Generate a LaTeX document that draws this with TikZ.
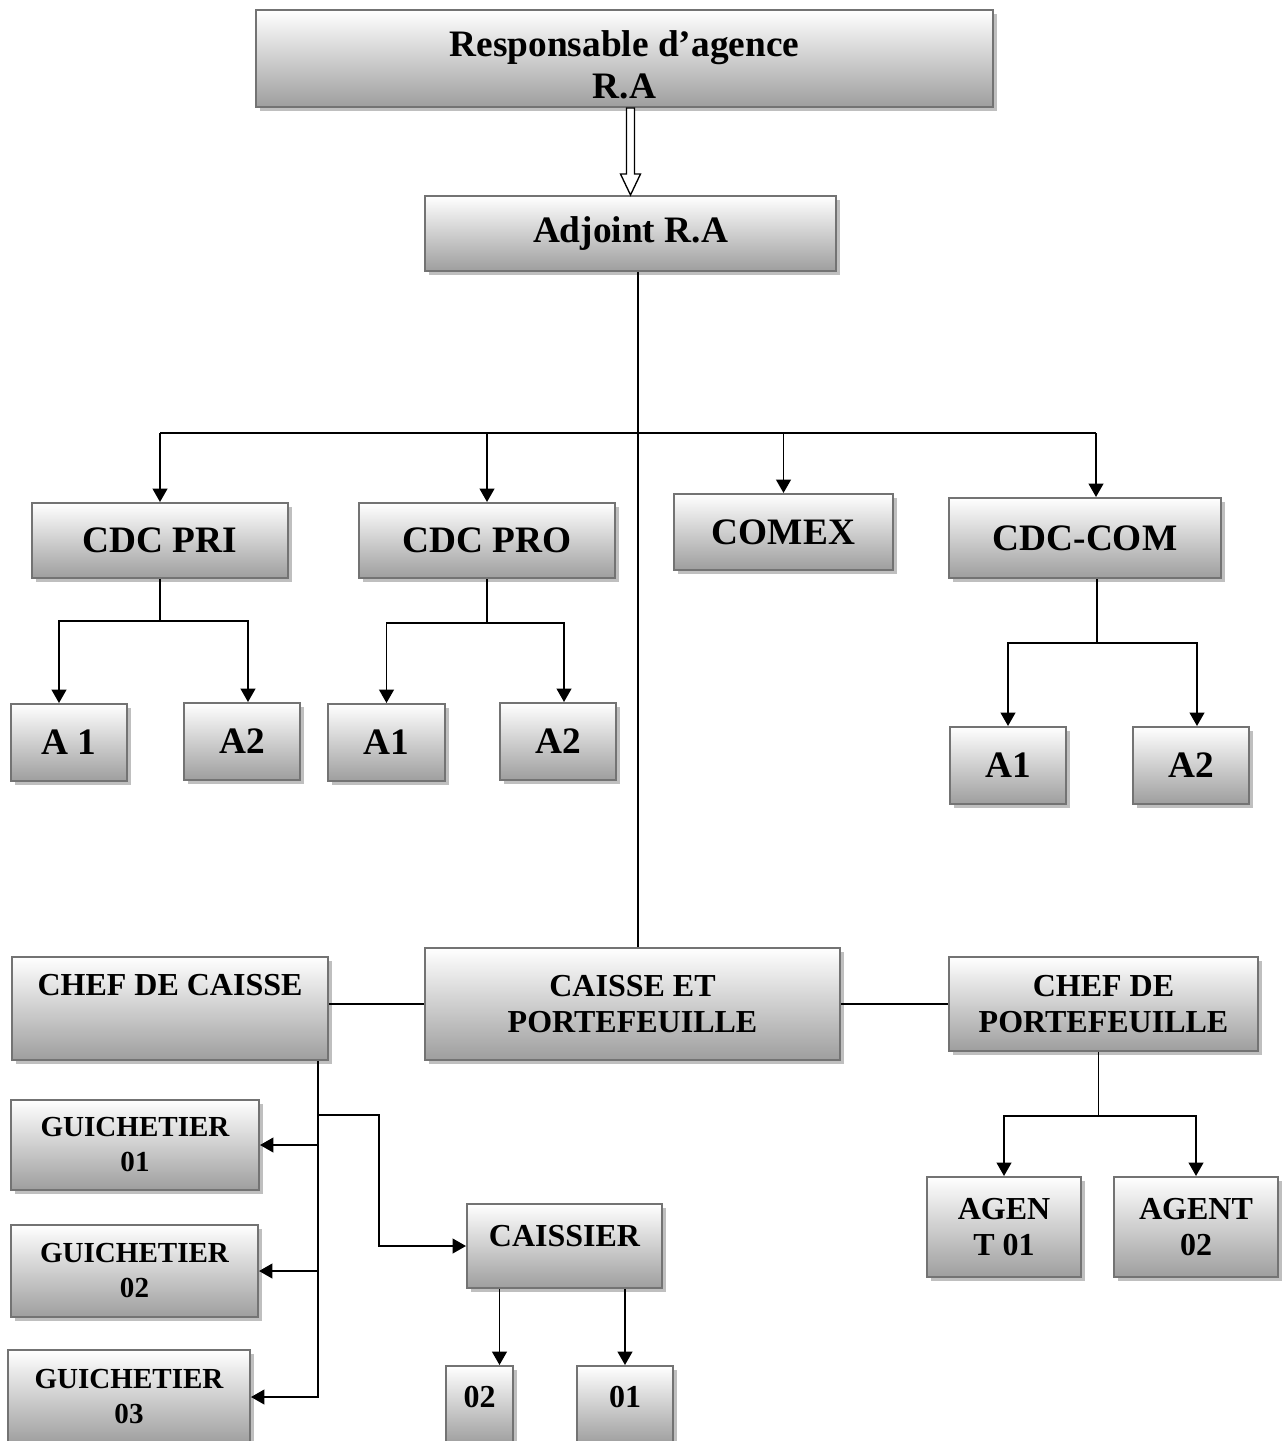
\documentclass[tikz,border=0pt]{standalone}
\usepackage{fontspec}
\setmainfont{Liberation Serif}
\usetikzlibrary{arrows.meta,shadows,calc}

\tikzset{
  box/.style={draw=black!55, line width=1.5pt, top color=white, bottom color=black!38,
    drop shadow={shadow xshift=3pt, shadow yshift=-3pt, fill=black!25, opacity=1},
    align=center, inner sep=0pt},
  bigtxt/.style={font=\bfseries\fontsize{28}{31.5}\selectfont},
  midtxt/.style={font=\bfseries\fontsize{24}{27.5}\selectfont},
  smalltxt/.style={font=\bfseries\fontsize{21.8}{26.25}\selectfont},
  link/.style={line width=1.4pt},
  arr/.style={line width=1.4pt, -{Triangle[length=10pt,width=11pt]}},
  hollow/.style={line width=1pt, fill=white},
}

\begin{document}
\begin{tikzpicture}[x=0.75pt,y=0.75pt,yscale=-1,xscale=1]
	\useasboundingbox (0,0) rectangle (1281,1441);

	% Head of agency
	\node[box,bigtxt,minimum width=552.75pt,minimum height=72.75pt] (ra) at (624.5,58.5) {\rule{0pt}{29.5pt}Responsable d’agence\\R.A};
	\node[box,bigtxt,minimum width=308.25pt,minimum height=56.25pt] (adj) at (630.5,233.5) {Adjoint R.A};

	% CDC row
	\node[box,bigtxt,minimum width=192pt,minimum height=56.25pt] (pri) at (160,540.5) {CDC PRI};
	\node[box,bigtxt,minimum width=192pt,minimum height=56.25pt] (pro) at (487,540.5) {CDC PRO};
	\node[box,bigtxt,minimum width=164.25pt,minimum height=57pt] (comex) at (783.5,532) {COMEX};
	\node[box,bigtxt,minimum width=204pt,minimum height=60pt] (com) at (1085,538) {CDC-COM};

	% A1 / A2
	\node[box,bigtxt,minimum width=87pt,minimum height=57.75pt] (a1pri) at (69,742.5) {A 1};
	\node[box,bigtxt,minimum width=87pt,minimum height=57.75pt] (a2pri) at (242,741.5) {A2};
	\node[box,bigtxt,minimum width=87.75pt,minimum height=57.75pt] (a1pro) at (386.5,742.5) {A1};
	\node[box,bigtxt,minimum width=87pt,minimum height=57.75pt] (a2pro) at (558,741.5) {A2};
	\node[box,bigtxt,minimum width=87pt,minimum height=57.75pt] (a1com) at (1008,765.5) {A1};
	\node[box,bigtxt,minimum width=87pt,minimum height=57.75pt] (a2com) at (1191,765.5) {A2};

	% Caisse row
	\node[box,midtxt,minimum width=237pt,minimum height=77.25pt,text depth=35pt] (chefc) at (170,1008.5) {CHEF DE CAISSE};
	\node[box,midtxt,minimum width=311.25pt,minimum height=84pt] (cp) at (632.5,1004) {CAISSE ET\\PORTEFEUILLE};
	\node[box,midtxt,minimum width=231.75pt,minimum height=70.5pt] (chefp) at (1103.5,1004) {CHEF DE\\PORTEFEUILLE};

	% Guichetiers
	\node[box,smalltxt,minimum width=186pt,minimum height=67.5pt] (g1) at (135,1145) {GUICHETIER\\01};
	\node[box,smalltxt,minimum width=185.25pt,minimum height=69pt] (g2) at (134.5,1271) {GUICHETIER\\02};
	\node[box,smalltxt,minimum width=181.5pt,minimum height=70.5pt] (g3) at (129,1397) {GUICHETIER\\03};

	% Caissier
	\node[box,midtxt,minimum width=146.25pt,minimum height=63pt,text depth=15pt] (caissier) at (564.5,1246) {CAISSIER};
	\node[box,midtxt,minimum width=50.25pt,minimum height=58.5pt,text depth=12pt] (c02) at (479.5,1405) {02};
	\node[box,midtxt,minimum width=72pt,minimum height=58.5pt,text depth=12pt] (c01) at (625,1405) {01};

	% Agents
	\node[box,midtxt,minimum width=115.5pt,minimum height=75pt] (ag1) at (1004,1227) {AGEN\\T 01};
	\node[box,midtxt,minimum width=123pt,minimum height=75pt] (ag2) at (1196,1227) {AGENT\\02};

	% hollow arrow RA -> Adjoint
	\coordinate (hb) at (adj.north |- ra.south);
	\draw[hollow] ($(hb)+(-4,0)$) -- ($(adj.north)+(-4,-21)$) -- ($(adj.north)+(-10,-21)$) -- (adj.north)
		-- ($(adj.north)+(10,-21)$) -- ($(adj.north)+(4,-21)$) -- ($(hb)+(4,0)$) -- cycle;

	% trunk and top bar
	\coordinate (trunk) at ($(adj.south)+(7.5,0)$);
	\draw[link] (trunk) -- (trunk |- cp.north);
	\coordinate (bar) at ($(trunk)+(0,161)$);
	\coordinate (comtop) at ($(com.north)+(11,0)$);
	\draw[link] (bar -| pri.north) -- (bar -| comtop);
	\draw[arr] (bar -| pri.north) -- (pri.north);
	\draw[arr] (bar -| pro.north) -- (pro.north);
	\draw[arr] (bar -| comex.north) -- (comex.north);
	\draw[arr] (bar -| comtop) -- (comtop);

	% CDC PRI
	\draw[link] (pri.south) -- ++(0,42) coordinate (prij);
	\draw[arr] (prij) -| ($(a1pri.north)+(-10,0)$);
	\draw[arr] (prij) -| ($(a2pri.north)+(6,0)$);
	% CDC PRO
	\draw[link] (pro.south) -- ++(0,44) coordinate (proj);
	\draw[arr] (proj) -| (a1pro.north);
	\draw[arr] (proj) -| ($(a2pro.north)+(6,0)$);
	% CDC-COM
	\draw[link] ($(com.south)+(12,0)$) -- ++(0,64) coordinate (comj);
	\draw[arr] (comj) -| (a1com.north);
	\draw[arr] (comj) -| ($(a2com.north)+(6,0)$);

	% caisse et portefeuille
	\draw[link] (cp.west) -- (cp.west -| chefc.east);
	\draw[link] (cp.east) -- (cp.east -| chefp.west);

	% chef de caisse
	\coordinate (cv) at ($(chefc.south east)+(-11,0)$);
	\draw[arr] (cv) |- (g3.east);
	\draw[arr] (cv |- g1.east) -- (g1.east);
	\draw[arr] (cv |- g2.east) -- (g2.east);
	\draw[arr] ($(cv)+(0,54)$) -- ++(61,0) |- (caissier.west);

	% caissier
	\coordinate (cs2) at ($(caissier.south)+(-65,0)$);
	\draw[arr] (cs2) -- (cs2 |- c02.north);
	\draw[arr] (c01.north |- caissier.south) -- (c01.north);

	% chef de portefeuille
	\draw[link] ($(chefp.south)+(-5,0)$) -- ++(0,64) coordinate (pj);
	\draw[arr] (pj) -| (ag1.north);
	\draw[arr] (pj) -| (ag2.north);
\end{tikzpicture}
\end{document}
